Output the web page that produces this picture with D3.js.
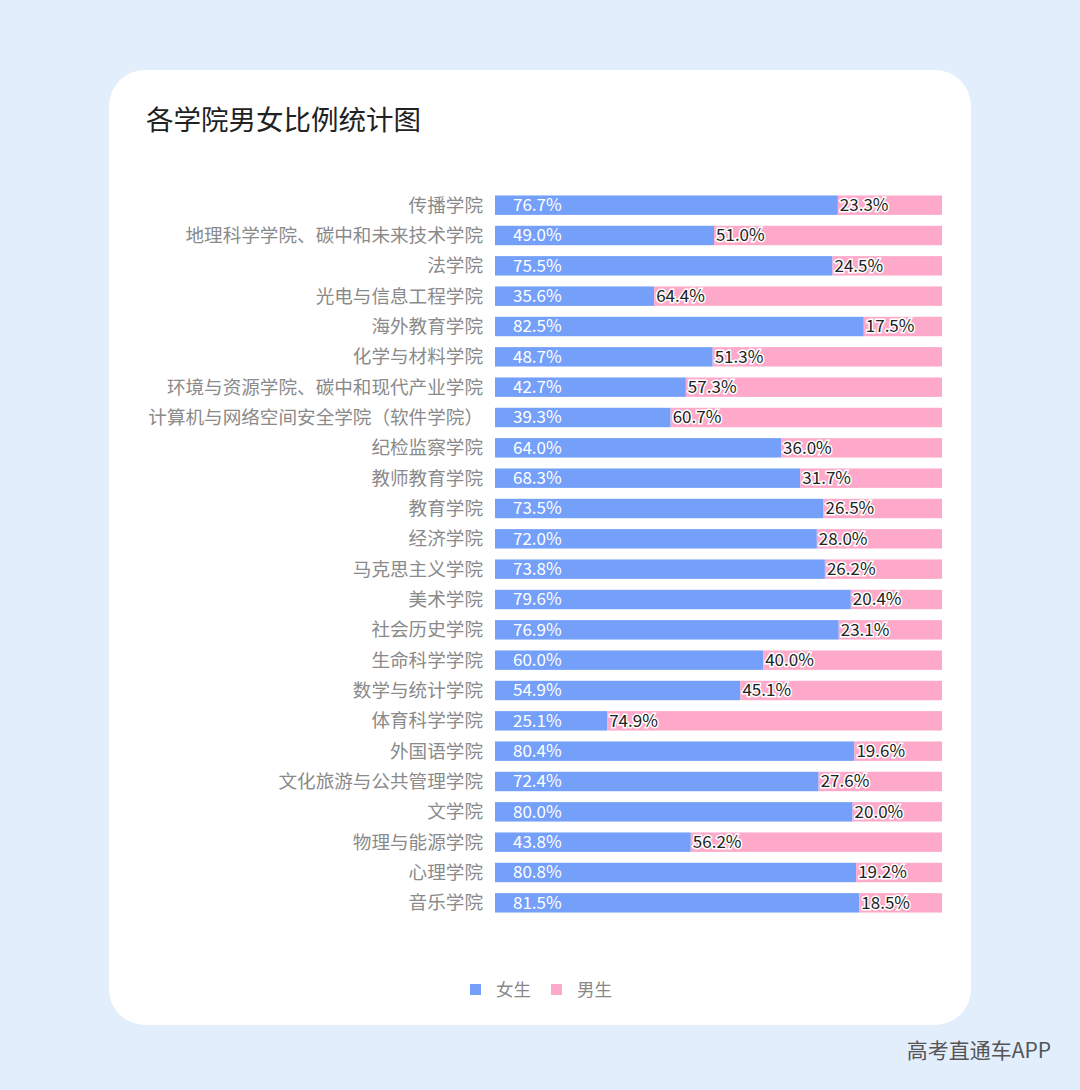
<!DOCTYPE html>
<html><head><meta charset="utf-8">
<script src="https://cdn.jsdelivr.net/npm/d3@7"></script>
<style>body{margin:0;background:#e3eefd;font-family:"Noto Sans CJK SC",sans-serif}</style>
</head><body><svg id="c" width="1080" height="1090"></svg>
<script>
const categories=["传播学院","地理科学学院、碳中和未来技术学院","法学院","光电与信息工程学院","海外教育学院","化学与材料学院","环境与资源学院、碳中和现代产业学院","计算机与网络空间安全学院（软件学院）","纪检监察学院","教师教育学院","教育学院","经济学院","马克思主义学院","美术学院","社会历史学院","生命科学学院","数学与统计学院","体育科学学院","外国语学院","文化旅游与公共管理学院","文学院","物理与能源学院","心理学院","音乐学院"];
const female=[76.7,49.0,75.5,35.6,82.5,48.7,42.7,39.3,64.0,68.3,73.5,72.0,73.8,79.6,76.9,60.0,54.9,25.1,80.4,72.4,80.0,43.8,80.8,81.5];
const male=[23.3,51.0,24.5,64.4,17.5,51.3,57.3,60.7,36.0,31.7,26.5,28.0,26.2,20.4,23.1,40.0,45.1,74.9,19.6,27.6,20.0,56.2,19.2,18.5];
const seriesNames=["女生","男生"];
const colors=["#74a0fa","#fea9c9"];
const svg=d3.select("#c");
svg.append("rect").attr("x",109).attr("y",70).attr("width",862).attr("height",955).attr("rx",36).attr("fill","#fff");
svg.append("text").attr("x",146).attr("y",130).attr("font-size",27.5).attr("fill","#222").text("各学院男女比例统计图");
const x=d3.scaleLinear().domain([0,100]).range([495,942]);
const y=d3.scaleBand().domain(categories).range([190,918]).paddingInner(0.36).paddingOuter(0.18);
const g=svg.append("g");
categories.forEach((c,i)=>{
  const yy=y(c),h=y.bandwidth(),cy=yy+h/2;
  g.append("text").attr("x",483).attr("y",cy).attr("dy","0.35em").attr("text-anchor","end").attr("font-size",18.6).attr("fill","#8a8a8a").text(c);
  g.append("rect").attr("x",x(0)).attr("y",yy).attr("width",x(female[i])-x(0)).attr("height",h).attr("fill",colors[0]);
  g.append("rect").attr("x",x(female[i])).attr("y",yy).attr("width",x(female[i]+male[i])-x(female[i])).attr("height",h).attr("fill",colors[1]);
  g.append("text").attr("x",x(0)+18).attr("y",cy).attr("dy","0.35em").attr("font-size",17).attr("fill","#fff").text(female[i].toFixed(1)+"%");
  g.append("text").attr("x",x(female[i])+2).attr("y",cy).attr("dy","0.35em").attr("font-size",17).attr("fill","#222").attr("stroke","#fff").attr("stroke-width",3).attr("paint-order","stroke").text(male[i].toFixed(1)+"%");
});
const lg=svg.append("g");
[[470,0],[551,1]].forEach(([lx,k])=>{
  lg.append("rect").attr("x",lx).attr("y",984).attr("width",11).attr("height",11).attr("fill",colors[k]);
  lg.append("text").attr("x",lx+26).attr("y",990).attr("dy","0.35em").attr("font-size",17.5).attr("fill","#888").text(seriesNames[k]);
});
svg.append("text").attr("x",1051).attr("y",1051).attr("dy","0.35em").attr("text-anchor","end").attr("font-size",21).attr("fill","#555").text("高考直通车APP");
</script></body></html>
